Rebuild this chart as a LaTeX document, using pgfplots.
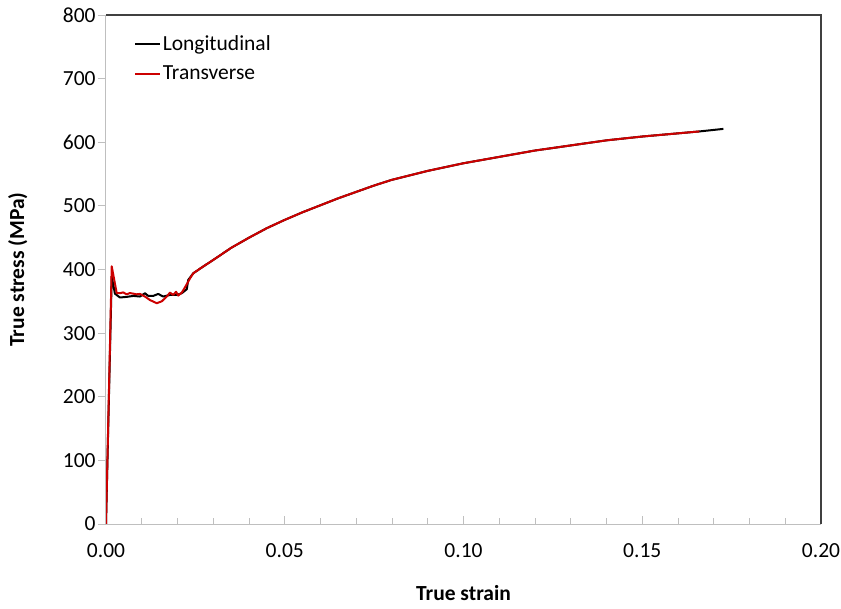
\documentclass[border=0pt]{standalone}
\usepackage{pgfplots}
\pgfplotsset{compat=1.18}
\usepackage{fontspec}
\setmainfont{Carlito}
\definecolor{tred}{RGB}{204,0,0}
\definecolor{axlight}{RGB}{191,191,191}
\definecolor{axdark}{RGB}{64,64,64}
\begin{document}
\fontsize{21.5}{26}\selectfont
\begin{tikzpicture}
\useasboundingbox (0,0) rectangle (841pt,608pt);
\begin{axis}[
  at={(106pt,84pt)}, anchor=south west,
  scale only axis, width=715pt, height=509pt,
  xmin=0, xmax=0.2, ymin=0, ymax=800,
  xtick={0,0.05,0.1,0.15,0.2},
  xticklabels={0.00,0.05,0.10,0.15,0.20},
  ytick={0,100,...,800},
  minor x tick num=4,
  xtick pos=bottom, ytick pos=left,
  xtick align=inside, ytick align=outside,
  major tick length=8pt, minor tick length=6pt,
  every tick/.style={axlight, line width=0.8pt},
  every minor tick/.style={axlight, line width=0.8pt},
  axis line style={draw=none},
  /pgf/number format/assume math mode=true,
  ticklabel style={font=\fontsize{21.5}{26}\selectfont},
  xticklabel style={yshift=-12pt},
  yticklabel style={xshift=5pt},
  xlabel={\textbf{True strain}},
  ylabel={\textbf{True stress (MPa)}},
  label style={font=\fontsize{21.5}{26}\selectfont},
  xlabel style={yshift=-13pt},
  ylabel style={yshift=21pt},
  legend style={draw=none, fill=none, at={(28pt,491pt)}, anchor=north west,
    inner sep=0pt, row sep=8pt, font=\fontsize{21.5}{26}\selectfont,
    legend cell align=left},
  legend image code/.code={\draw[#1, line width=1.6pt] (0pt,0pt) -- (25pt,0pt);},
  after end axis/.code={
    \draw[axlight, line width=1pt] (rel axis cs:0,0) -- (rel axis cs:1,0);
    \draw[axlight, line width=1pt] (rel axis cs:0,0) -- (rel axis cs:0,1);
    \draw[axdark, line width=1.2pt] (rel axis cs:0,1) -- (rel axis cs:1,1) -- (rel axis cs:1,0);
  },
]
\addplot[black, line width=2pt, line join=round] coordinates {
(0,0) (0.0016,389) (0.0025,362) (0.0039,356) (0.0058,357) (0.0077,358.5)
(0.0095,357.5) (0.0109,362.7) (0.0118,358.5) (0.0132,358.5) (0.0146,361.6)
(0.0160,357.5) (0.0179,360) (0.0198,360) (0.0212,362.7) (0.0226,369) (0.0230,383.6)
(0.0244,394) (0.027,404) (0.030,415) (0.035,434) (0.040,450) (0.045,465) (0.050,478)
(0.055,490) (0.060,501) (0.065,512) (0.070,522) (0.075,532) (0.080,541) (0.085,548)
(0.090,555) (0.095,561) (0.100,567) (0.110,577) (0.120,587)
(0.130,595) (0.140,603) (0.150,609) (0.160,614) (0.166,617) (0.1727,621)
};
\addlegendentry{Longitudinal}
\addplot[tred, line width=2pt, line join=round] coordinates {
(0,0) (0.0016,405) (0.0030,362.7) (0.0039,362.7) (0.0048,364) (0.0058,361)
(0.0067,363) (0.0086,361) (0.0095,361.6) (0.0109,357.5) (0.0123,352) (0.0142,347)
(0.0156,350) (0.0170,357.5) (0.0179,363.7) (0.0188,360) (0.0196,365) (0.0202,359)
(0.0212,363.7) (0.0221,372) (0.0235,386)
(0.0244,394) (0.027,404) (0.030,415) (0.035,434) (0.040,450) (0.045,465) (0.050,478)
(0.055,490) (0.060,501) (0.065,512) (0.070,522) (0.075,532) (0.080,541) (0.085,548)
(0.090,555) (0.095,561) (0.100,567) (0.110,577) (0.120,587)
(0.130,595) (0.140,603) (0.150,609) (0.160,614) (0.166,617)
};
\addlegendentry{Transverse}
\end{axis}
\end{tikzpicture}
\end{document}
